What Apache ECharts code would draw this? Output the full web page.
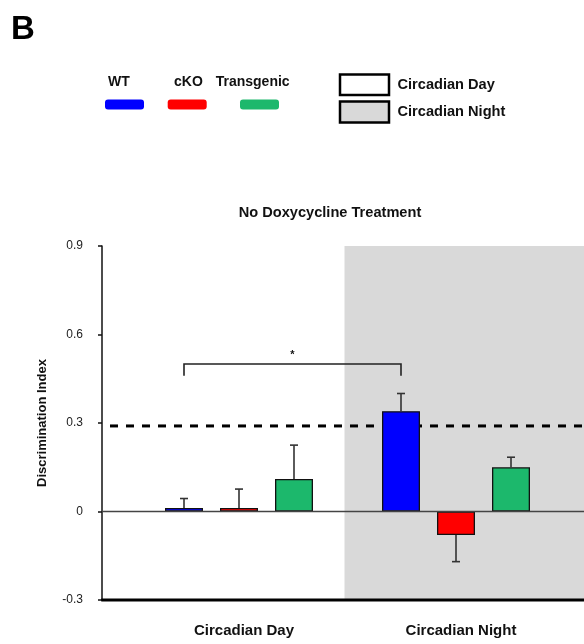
<!DOCTYPE html>
<html>
<head>
<meta charset="utf-8">
<script src="https://cdn.jsdelivr.net/npm/echarts@6/dist/echarts.min.js"></script>
<style>
  html, body { margin: 0; padding: 0; background: #fff; }
  #chart { width: 584px; height: 644px; }
</style>
</head>
<body>
<div id="chart"></div>
<script>
// Discrimination index by genotype, circadian day vs night (no doxycycline)
const phases = ['Circadian Day', 'Circadian Night'];
const genotypes = ['WT', 'cKO', 'Transgenic'];
const genotypeColors = ['#0000ff', '#ff0000', '#1cb86c'];
const wtValues = [0.012, 0.34];
const ckoValues = [0.012, -0.08];
const tgValues = [0.11, 0.15];
const wtErr = [0.032, 0.06];
const ckoErr = [0.064, 0.09];
const tgErr = [0.115, 0.034];
const chanceLevel = 0.29;
const yTicks = [-0.3, 0, 0.3, 0.6, 0.9];
const chartTitle = 'No Doxycycline Treatment';
// significance bracket: WT day vs WT night
const bracket = { from: 'Circadian Day', to: 'Circadian Night', top: 0.5, foot: 0.46, mark: '*' };

const FONT = "'Liberation Sans', Arial, sans-serif";
const BAR_W = 38;
const BAR_SPACE = 17;
const GRID_LEFT = 130.5, GRID_RIGHT = 19.5, GRID_TOP = 246, GRID_BOTTOM = 44;
const Y_OFFSET = 28.5;
const NIGHT_FILL = '#d9d9d9';

const chart = echarts.init(document.getElementById('chart'), null, { renderer: 'canvas' });

const seriesValues = [wtValues, ckoValues, tgValues];
const seriesErrs = [wtErr, ckoErr, tgErr];

const barSeries = genotypes.map((name, gi) => ({
  name: name,
  type: 'bar',
  z: 3,
  barWidth: BAR_W,
  barGap: (BAR_SPACE / BAR_W * 100).toFixed(2) + '%',
  itemStyle: { color: genotypeColors[gi], borderColor: '#111', borderWidth: 1.3 },
  data: seriesValues[gi]
}));

// error bar rows: [phase, genotype index, mean, error]
const errRows = [];
genotypes.forEach((g, gi) => {
  phases.forEach((p, pi) => {
    errRows.push([p, gi, seriesValues[gi][pi], seriesErrs[gi][pi]]);
  });
});

function barCenterX(api, catIdx, gi) {
  return api.coord([catIdx, 0])[0] + (gi - (genotypes.length - 1) / 2) * (BAR_W + BAR_SPACE);
}

const errorSeries = {
  type: 'custom',
  z: 4,
  silent: true,
  data: errRows,
  encode: { x: 0, y: 2 },
  renderItem: function (params, api) {
    const cat = api.value(0);
    const gi = api.value(1);
    const mean = api.value(2);
    const err = api.value(3);
    const end = mean >= 0 ? mean + err : mean - err;
    const x = barCenterX(api, cat, gi);
    const y0 = api.coord([cat, mean])[1];
    const y1 = api.coord([cat, end])[1];
    const style = { stroke: '#333', lineWidth: 1.6 };
    return {
      type: 'group',
      children: [
        { type: 'line', shape: { x1: x, y1: y0, x2: x, y2: y1 }, style: style },
        { type: 'line', shape: { x1: x - 4, y1: y1, x2: x + 4, y2: y1 }, style: style }
      ]
    };
  }
};

const bracketSeries = {
  type: 'custom',
  z: 4,
  silent: true,
  data: [[bracket.from, bracket.to, bracket.top, bracket.foot]],
  encode: { x: 0, y: 2 },
  renderItem: function (params, api) {
    const xa = barCenterX(api, api.value(0), 0);
    const xb = barCenterX(api, api.value(1), 0);
    const yTop = api.coord([0, api.value(2)])[1];
    const yFoot = api.coord([0, api.value(3)])[1];
    return {
      type: 'group',
      children: [
        { type: 'polyline', shape: { points: [[xa, yFoot], [xa, yTop], [xb, yTop], [xb, yFoot]] },
          style: { stroke: '#222', lineWidth: 1.6, fill: null } },
        { type: 'text', x: (xa + xb) / 2, y: yTop - 9,
          style: { text: bracket.mark, font: 'bold 11px ' + FONT, fill: '#111', align: 'center', verticalAlign: 'middle' } }
      ]
    };
  }
};

const option = {
  animation: false,
  backgroundColor: '#fff',
  grid: { left: GRID_LEFT, right: GRID_RIGHT, top: GRID_TOP, bottom: GRID_BOTTOM },
  xAxis: {
    type: 'category',
    data: phases,
    axisLine: { show: false },
    axisTick: { show: false },
    splitLine: { show: false },
    axisLabel: { margin: 23, padding: [0, 0, 0, 10], color: '#111', fontFamily: FONT, fontWeight: 'bold', fontSize: 15 }
  },
  yAxis: {
    type: 'value',
    min: yTicks[0],
    max: yTicks[yTicks.length - 1],
    interval: 0.3,
    offset: Y_OFFSET,
    name: 'Discrimination Index',
    nameLocation: 'middle',
    nameGap: 53,
    nameTextStyle: { fontFamily: FONT, fontWeight: 'bold', fontSize: 13, color: '#111' },
    axisLine: { show: true, lineStyle: { color: '#111', width: 1.5 } },
    axisTick: { show: true, length: 4, lineStyle: { color: '#111', width: 1.5 } },
    splitLine: { show: false },
    axisLabel: { margin: 19, color: '#222', fontFamily: FONT, fontSize: 12,
      formatter: v => { const r = Math.round(v * 10) / 10; return r === 0 ? '0' : r.toFixed(1); } }
  },
  series: barSeries.concat([errorSeries, bracketSeries])
};

chart.setOption(option);

// Background band, reference lines, title and legend, placed from the axis scales
const W = chart.getWidth();
const axisX = GRID_LEFT - Y_OFFSET;
const yPx = v => chart.convertToPixel({ yAxisIndex: 0 }, v);
const xPx = c => chart.convertToPixel({ xAxisIndex: 0 }, c);
const nightLeft = (xPx(phases[0]) + xPx(phases[1])) / 2 - 3;
const yTopPx = yPx(yTicks[yTicks.length - 1]);
const yBotPx = yPx(yTicks[0]);
const yZero = yPx(0);
const yChance = yPx(chanceLevel);

const legendText = { font: 'bold 14px ' + FONT, fill: '#111', verticalAlign: 'middle' };
const boxText = { font: 'bold 14.6px ' + FONT, fill: '#111', verticalAlign: 'middle' };
const legendLabelX = [108, 174, 215.7];
const legendPillX = [105, 167.7, 240];

const graphics = [
  { type: 'rect', z: 0, shape: { x: nightLeft, y: yTopPx, width: W - nightLeft, height: yBotPx - yTopPx },
    style: { fill: NIGHT_FILL } },
  { type: 'line', z: 1, shape: { x1: axisX + 8, y1: yChance, x2: W + 8, y2: yChance },
    style: { stroke: '#000', lineWidth: 3, lineDash: [8, 8] } },
  { type: 'line', z: 5, shape: { x1: axisX, y1: yZero, x2: W, y2: yZero },
    style: { stroke: '#444', lineWidth: 1.5 } },
  { type: 'line', z: 5, shape: { x1: axisX - 0.75, y1: yBotPx, x2: W, y2: yBotPx },
    style: { stroke: '#000', lineWidth: 3 } },
  { type: 'text', z: 5, x: 11, y: 13, style: { text: 'B', font: 'bold 33px ' + FONT, fill: '#000' } },
  { type: 'text', z: 5, x: 330, y: 213, style: { text: chartTitle, font: 'bold 14.6px ' + FONT, fill: '#111',
    align: 'center', verticalAlign: 'middle' } }
];

genotypes.forEach((g, gi) => {
  graphics.push({ type: 'text', z: 5, x: legendLabelX[gi], y: 82, style: Object.assign({ text: g }, legendText) });
  graphics.push({ type: 'rect', z: 5, shape: { x: legendPillX[gi], y: 99.5, width: 39, height: 10, r: 3 },
    style: { fill: genotypeColors[gi] } });
});

graphics.push({ type: 'rect', z: 5, shape: { x: 340, y: 74.5, width: 49, height: 20.5 },
  style: { fill: '#fff', stroke: '#000', lineWidth: 2.5 } });
graphics.push({ type: 'text', z: 5, x: 397.5, y: 85, style: Object.assign({ text: phases[0] }, boxText) });
graphics.push({ type: 'rect', z: 5, shape: { x: 340, y: 101.5, width: 49, height: 21 },
  style: { fill: NIGHT_FILL, stroke: '#000', lineWidth: 2.5 } });
graphics.push({ type: 'text', z: 5, x: 397.5, y: 112, style: Object.assign({ text: phases[1] }, boxText) });

chart.setOption({ graphic: graphics });
</script>
</body>
</html>
